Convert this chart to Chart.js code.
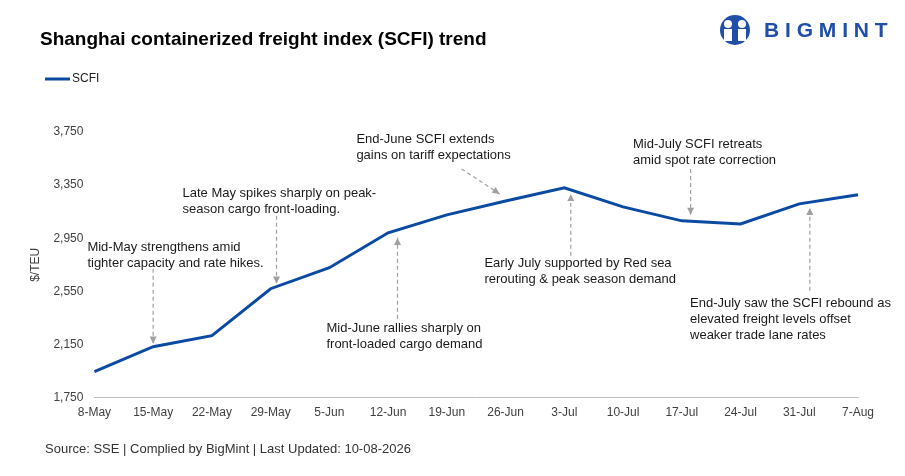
<!DOCTYPE html>
<html>
<head>
<meta charset="utf-8">
<script src="https://cdn.jsdelivr.net/npm/chart.js@4"></script>
<style>
body{margin:0;background:#fff}
#wrap{width:905px;height:476px;position:relative}
</style>
</head>
<body>
<div id="wrap"><canvas id="scfiChart" width="905" height="476"></canvas></div>
<script>
const weeks = ['8-May','15-May','22-May','29-May','5-Jun','12-Jun','19-Jun','26-Jun','3-Jul','10-Jul','17-Jul','24-Jul','31-Jul','7-Aug'];
const scfi = [1945, 2133, 2216, 2570, 2728, 2991, 3126, 3231, 3329, 3186, 3081, 3058, 3209, 3277];
const yTicks = [1750, 2150, 2550, 2950, 3350, 3750];

// notes: text anchored at (x index, y value) top-left; arrow from a to b
const notes = [
  {lines:['Mid-May strengthens amid','tighter capacity and rate hikes.'], x:-0.12, y:2931, a:[1,2720], b:[1,2156]},
  {lines:['Late May spikes sharply on peak-','season cargo front-loading.'], x:1.5, y:3337, a:[3.1,3119], b:[3.1,2607]},
  {lines:['Mid-June rallies sharply on','front-loaded cargo demand'], x:3.95, y:2322, a:[5.16,2344], b:[5.16,2953]},
  {lines:['End-June SCFI extends','gains on tariff expectations'], x:4.46, y:3743, a:[6.25,3472], b:[6.9,3284]},
  {lines:['Early July supported by Red sea','rerouting & peak season demand'], x:6.64, y:2810, a:[8.11,2818], b:[8.11,3284]},
  {lines:['Mid-July SCFI retreats','amid spot rate correction'], x:9.17, y:3705, a:[10.15,3472], b:[10.15,3126]},
  {lines:['End-July saw the SCFI rebound as','elevated freight levels offset','weaker trade lane rates'], x:10.14, y:2510, a:[12.18,2555], b:[12.18,3179]}
];

const FONT = '"Liberation Sans", Arial, sans-serif';

const decor = {
  id: 'decor',
  afterDraw(chart) {
    const ctx = chart.ctx, xs = chart.scales.x, ys = chart.scales.y;
    const px = i => { const p0 = xs.getPixelForValue(0), p1 = xs.getPixelForValue(1); return p0 + (p1 - p0) * i; };
    const py = v => ys.getPixelForValue(v);
    ctx.save();
    // title
    ctx.fillStyle = '#000';
    ctx.font = 'bold 19px ' + FONT;
    ctx.textBaseline = 'middle';
    ctx.fillText('Shanghai containerized freight index (SCFI) trend', 40, 40);
    // legend
    ctx.strokeStyle = '#0a4aa3'; ctx.lineWidth = 3;
    ctx.beginPath(); ctx.moveTo(45, 79); ctx.lineTo(70, 79); ctx.stroke();
    ctx.font = '12px ' + FONT; ctx.fillStyle = '#222';
    ctx.fillText('SCFI', 72, 79);
    // logo
    ctx.fillStyle = '#1f4fa8';
    ctx.beginPath(); ctx.arc(735, 30, 15, 0, Math.PI * 2); ctx.fill();
    ctx.fillStyle = '#fff';
    [728, 742].forEach(cx => { ctx.beginPath(); ctx.arc(cx, 24, 4, 0, Math.PI * 2); ctx.fill(); ctx.fillRect(cx - 4, 29, 8, 12); });
    ctx.fillStyle = '#1f4fa8';
    ctx.font = 'bold 21px ' + FONT;
    ctx.fillText('B I G M I N T', 764, 31);
    // source
    ctx.fillStyle = '#333'; ctx.font = '13px ' + FONT;
    ctx.fillText('Source: SSE | Complied by BigMint | Last Updated: 10-08-2026', 45, 449);
    // notes
    ctx.font = '13px ' + FONT; ctx.fillStyle = '#1a1a1a'; ctx.textBaseline = 'top';
    notes.forEach(n => {
      n.lines.forEach((l, k) => ctx.fillText(l, px(n.x), py(n.y) + k * 16));
      const x1 = px(n.a[0]), y1 = py(n.a[1]), x2 = px(n.b[0]), y2 = py(n.b[1]);
      ctx.strokeStyle = '#a0a0a0'; ctx.fillStyle = '#a0a0a0'; ctx.lineWidth = 1.2;
      ctx.setLineDash([4, 3]);
      ctx.beginPath(); ctx.moveTo(x1, y1); ctx.lineTo(x2, y2); ctx.stroke();
      ctx.setLineDash([]);
      const ang = Math.atan2(y2 - y1, x2 - x1);
      ctx.beginPath();
      ctx.moveTo(x2, y2);
      ctx.lineTo(x2 - 8 * Math.cos(ang - 0.45), y2 - 8 * Math.sin(ang - 0.45));
      ctx.lineTo(x2 - 8 * Math.cos(ang + 0.45), y2 - 8 * Math.sin(ang + 0.45));
      ctx.closePath(); ctx.fill();
      ctx.fillStyle = '#1a1a1a';
    });
    ctx.restore();
  }
};

new Chart(document.getElementById('scfiChart'), {
  type: 'line',
  data: {
    labels: weeks,
    datasets: [{ label: 'SCFI', data: scfi, borderColor: '#0a4aa3', borderWidth: 3, pointRadius: 0, tension: 0 }]
  },
  options: {
    responsive: false,
    animation: false,
    layout: { padding: { left: 20, right: 47, top: 132, bottom: 48 } },
    plugins: { legend: { display: false }, tooltip: { enabled: false } },
    scales: {
      x: {
        grid: { display: false, drawTicks: false },
        border: { color: '#bfbfbf' },
        ticks: { color: '#404040', font: { family: FONT, size: 12 }, maxRotation: 0, autoSkip: false, padding: 8 }
      },
      y: {
        min: 1750, max: 3750,
        afterBuildTicks: s => { s.ticks = yTicks.map(v => ({ value: v })); },
        grid: { display: false },
        border: { display: false },
        title: { display: true, text: '$/TEU', color: '#404040', font: { family: FONT, size: 12 }, padding: 8 },
        ticks: { color: '#404040', font: { family: FONT, size: 12 }, callback: v => v.toLocaleString('en-US') }
      }
    }
  },
  plugins: [decor]
});
</script>
</body>
</html>
